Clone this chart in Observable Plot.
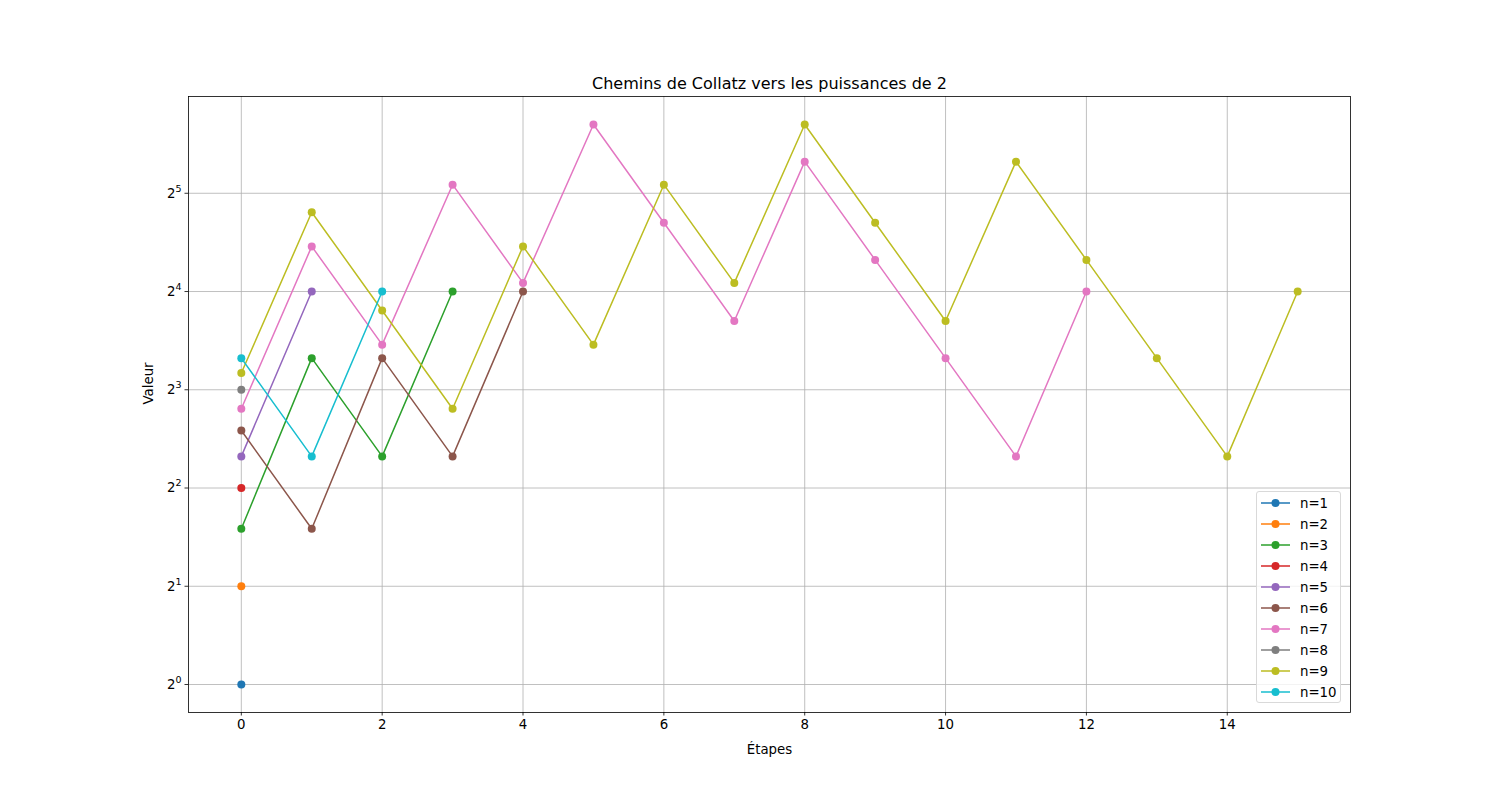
<!DOCTYPE html>
<html>
<head>
<meta charset="utf-8">
<script src="https://cdn.jsdelivr.net/npm/d3@7"></script>
<script src="https://cdn.jsdelivr.net/npm/@observablehq/plot@0.6"></script>
<style>
  body { margin: 0; background: #fff; font-family: "DejaVu Sans", sans-serif; }
  #wrap { position: relative; width: 1500px; height: 800px; }
  #legend { position: absolute; left: 1256px; top: 491px; width: 85px; height: 212px;
    border: 1px solid #d9d9d9; border-radius: 3px; background: rgba(255,255,255,0.8); box-sizing: border-box; }
  .row { position: absolute; left: 0; height: 20px; display: flex; align-items: center; }
  .row span { font-size: 13.33px; color: #000; }
</style>
</head>
<body>
<div id="wrap"><div id="legend"></div></div>
<script>
const seriesNames = ["n=1","n=2","n=3","n=4","n=5","n=6","n=7","n=8","n=9","n=10"];
const colors = ["#1f77b4","#ff7f0e","#2ca02c","#d62728","#9467bd","#8c564b","#e377c2","#7f7f7f","#bcbd22","#17becf"];
const path1 = [1];
const path2 = [2];
const path3 = [3, 10, 5, 16];
const path4 = [4];
const path5 = [5, 16];
const path6 = [6, 3, 10, 5, 16];
const path7 = [7, 22, 11, 34, 17, 52, 26, 13, 40, 20, 10, 5, 16];
const path8 = [8];
const path9 = [9, 28, 14, 7, 22, 11, 34, 17, 52, 26, 13, 40, 20, 10, 5, 16];
const path10 = [10, 5, 16];
const paths = [path1, path2, path3, path4, path5, path6, path7, path8, path9, path10];
const xTicks = [0, 2, 4, 6, 8, 10, 12, 14];
const yTicks = [1, 2, 4, 8, 16, 32];

const marks = [
  Plot.gridX(xTicks, {stroke: "#b0b0b0", strokeOpacity: 1, strokeWidth: 0.8}),
  Plot.gridY(yTicks, {stroke: "#b0b0b0", strokeOpacity: 1, strokeWidth: 0.8}),
];
paths.forEach((p, i) => {
  const data = p.map((v, k) => ({step: k, value: v}));
  marks.push(Plot.line(data, {x: "step", y: "value", stroke: colors[i], strokeWidth: 1.5}));
  marks.push(Plot.dot(data, {x: "step", y: "value", fill: colors[i], r: 4}));
});
marks.push(
  Plot.frame({stroke: "black", strokeWidth: 0.8}),
  Plot.axisX(xTicks, {tickSize: 3.5, tickPadding: 3.5, fontSize: 13.33, label: null, stroke: "black", strokeWidth: 0.8}),
  Plot.axisY(yTicks, {tickSize: 3.5, tickPadding: 3.5, fontSize: 13.33, label: null, stroke: "black", strokeWidth: 0.8,
    tickFormat: d => "2^" + Math.round(Math.log2(d))}),
  Plot.text(["Chemins de Collatz vers les puissances de 2"], {frameAnchor: "top", lineAnchor: "bottom", dy: -8, fontSize: 16, fill: "black"}),
  Plot.text(["Étapes"], {frameAnchor: "bottom", lineAnchor: "middle", dy: 37, fontSize: 13.33, fill: "black"}),
  Plot.text(["Valeur"], {frameAnchor: "left", rotate: -90, dx: -40, fontSize: 13.33, fill: "black"})
);

const chart = Plot.plot({
  width: 1500, height: 800,
  marginLeft: 188, marginRight: 150, marginTop: 96, marginBottom: 88,
  style: {fontFamily: "DejaVu Sans", fontSize: "13.33px", background: "white", color: "black"},
  x: {domain: [-0.75, 15.75]},
  y: {type: "log", base: 2, domain: [Math.pow(2, -0.285), Math.pow(2, 5.985)]},
  marks
});
// render exponents as raised, smaller text (like mathtext)
chart.querySelectorAll("text").forEach(t => {
  const s = t.textContent;
  const m = /^2\^(\d+)$/.exec(s);
  if (m) {
    t.textContent = "";
    const ns = "http://www.w3.org/2000/svg";
    const base = document.createElementNS(ns, "tspan");
    base.textContent = "2";
    const ex = document.createElementNS(ns, "tspan");
    ex.textContent = m[1];
    ex.setAttribute("font-size", "9.5");
    ex.setAttribute("dy", "-6");
    t.appendChild(base);
    t.appendChild(ex);
  }
});
const wrap = document.getElementById("wrap");
wrap.insertBefore(chart, wrap.firstChild);

const legend = document.getElementById("legend");
seriesNames.forEach((name, i) => {
  const row = document.createElement("div");
  row.className = "row";
  row.style.top = (1 + i * 21) + "px";
  row.innerHTML = `<svg width="38" height="20" style="margin-left:4px"><line x1="0" x2="29" y1="10" y2="10" stroke="${colors[i]}" stroke-width="1.5"/><circle cx="14.5" cy="10" r="4" fill="${colors[i]}"/></svg><span style="margin-left:1px">${name}</span>`;
  legend.appendChild(row);
});
</script>
</body>
</html>
